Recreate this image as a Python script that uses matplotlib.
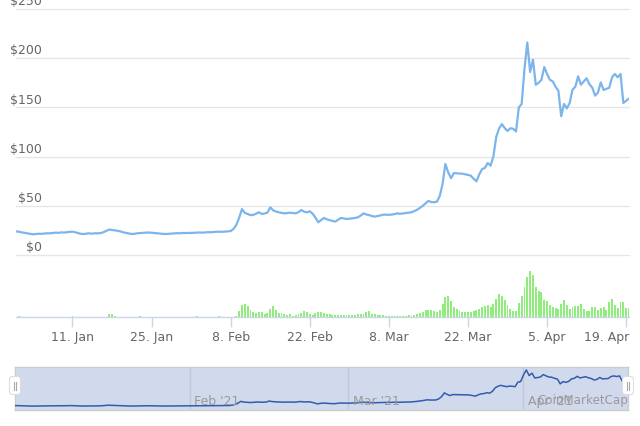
import matplotlib
matplotlib.use('Agg')
import matplotlib.pyplot as plt
import matplotlib.transforms as mtransforms
from matplotlib.patches import FancyBboxPatch
from matplotlib.lines import Line2D
import pandas as pd

plt.rcParams['font.family'] = ['DejaVu Sans']

# 12-hour samples, 2021-01-01 00:00 .. 2021-04-19 12:00
dates = pd.date_range('2021-01-01 00:00', periods=218, freq='12h')

# price in USD
price = [
    24.0, 23.6, 23.0, 22.5, 22.0, 21.4, 21.0, 21.3, 21.6, 21.5, 21.8, 22.1, 22.0, 22.4,
    22.7, 22.5, 23.0, 22.8, 23.2, 23.5, 23.7, 23.1, 22.2, 21.5, 21.3, 21.8, 22.0, 21.7,
    22.1, 22.0, 22.3, 23.2, 24.5, 25.9, 25.4, 25.1, 24.6, 24.0, 23.0, 22.4, 21.8, 21.3,
    21.6, 22.1, 22.3, 22.6, 22.8, 22.9, 22.6, 22.3, 22.0, 21.7, 21.5, 21.3, 21.5, 21.8,
    22.0, 22.2, 22.1, 22.4, 22.3, 22.5, 22.4, 22.6, 22.8, 22.9, 22.7, 23.0, 23.2, 23.1,
    23.4, 23.6, 23.7, 23.5, 23.8, 24.0, 24.3, 26.5, 30.5, 38.0, 46.7, 42.7, 41.7, 40.5,
    40.8, 42.0, 43.4, 41.7, 42.2, 43.0, 48.4, 45.5, 44.2, 43.4, 42.8, 42.3, 42.7, 43.0,
    42.6, 42.3, 43.5, 45.7, 44.0, 43.4, 44.4, 42.0, 38.0, 33.2, 35.5, 37.6, 36.3, 35.4,
    34.6, 33.9, 35.8, 37.6, 37.2, 36.6, 36.9, 37.3, 37.6, 38.3, 40.0, 42.3, 41.2, 40.5,
    39.6, 39.0, 39.6, 40.2, 41.0, 41.0, 40.8, 41.1, 41.6, 42.3, 41.9, 42.3, 42.8, 43.2,
    43.4, 44.6, 46.0, 47.9, 50.0, 52.5, 55.0, 53.8, 53.6, 54.2, 60.0, 72.0, 92.5, 84.0,
    78.0, 83.3, 83.0, 82.8, 82.6, 82.0, 81.4, 80.6, 77.5, 74.9, 82.0, 87.3, 88.5, 93.5,
    90.8, 100.3, 120.0, 128.5, 133.0, 129.0, 126.0, 128.8, 128.3, 125.5, 150.0, 153.5, 189.0, 216.0,
    186.0, 198.5, 173.0, 175.0, 178.0, 191.0, 184.0, 178.0, 176.5, 171.0, 167.0, 141.0, 153.5, 149.0,
    154.5, 168.0, 171.0, 181.6, 173.0, 176.5, 179.6, 173.5, 170.0, 162.0, 165.0, 175.5, 167.7, 168.8,
    170.0, 180.6, 184.0, 180.6, 184.0, 154.5, 156.8, 159.0,
]

# trading volume (relative units)
volume = [
    0.5, 1.5, 0.2, 0.2, 0.2, 0.2, 0.2, 0.2, 0.2, 0.2, 0.2, 0.2, 0.2, 0.2,
    0.2, 0.2, 0.2, 0.2, 0.2, 0.2, 1.0, 0.2, 0.2, 0.2, 0.2, 0.2, 0.2, 0.2,
    0.2, 0.2, 0.2, 0.2, 0.2, 2.7, 2.7, 1.0, 0.2, 0.2, 0.2, 0.2, 0.2, 0.2,
    0.2, 0.2, 1.0, 0.2, 0.2, 0.2, 0.2, 0.2, 0.2, 0.2, 0.2, 0.2, 0.2, 0.2,
    0.2, 0.2, 0.2, 0.2, 0.2, 0.2, 0.2, 0.2, 1.3, 0.2, 0.2, 0.2, 0.2, 0.2,
    0.2, 0.2, 1.0, 0.3, 0.3, 0.3, 0.3, 0.5, 1.0, 5.7, 12.3, 13.3, 10.7, 6.7,
    4.7, 4.0, 4.7, 4.7, 3.3, 3.7, 7.7, 10.7, 7.3, 3.7, 3.7, 3.3, 2.3, 2.7,
    1.5, 2.3, 2.7, 4.0, 5.7, 4.7, 3.0, 2.0, 4.0, 5.3, 5.3, 4.0, 3.3, 3.0,
    2.3, 2.5, 2.3, 2.2, 2.4, 2.2, 2.3, 2.5, 2.3, 2.6, 2.7, 3.5, 5.0, 5.7,
    3.5, 2.7, 2.3, 2.0, 1.6, 1.3, 1.0, 1.0, 0.8, 1.0, 1.0, 1.2, 1.5, 2.0,
    1.5, 2.2, 3.0, 4.0, 5.0, 6.7, 7.3, 7.0, 6.0, 5.3, 7.0, 13.3, 20.0, 20.7,
    16.0, 10.0, 7.7, 6.0, 5.0, 4.7, 5.0, 4.7, 5.7, 6.7, 8.3, 9.8, 11.0, 12.0,
    10.5, 13.0, 18.0, 22.7, 21.0, 17.0, 12.0, 8.3, 6.0, 5.7, 14.3, 20.7, 30.0, 40.0,
    45.7, 41.7, 30.0, 26.0, 25.0, 17.3, 16.0, 12.0, 10.0, 9.3, 8.3, 13.3, 17.3, 11.7,
    7.7, 10.0, 11.0, 11.0, 12.7, 8.3, 5.7, 5.7, 10.0, 10.0, 7.5, 9.0, 10.0, 7.5,
    15.0, 18.3, 12.3, 9.0, 15.0, 15.0, 9.0, 9.0,
]

y_ticks = [0, 50, 100, 150, 200, 250]
y_labels = ['$0', '$50', '$100', '$150', '$200', '$250']
x_tick_dates = pd.to_datetime(['2021-01-11', '2021-01-25', '2021-02-08', '2021-02-22',
                               '2021-03-08', '2021-03-22', '2021-04-05', '2021-04-19'])
x_tick_labels = ['11. Jan', '25. Jan', '8. Feb', '22. Feb', '8. Mar', '22. Mar', '5. Apr', '19. Apr']
nav_months = pd.to_datetime(['2021-02-01', '2021-03-01', '2021-04-01'])
nav_labels = ["Feb '21", "Mar '21", "Apr '21"]

W, H = 640, 427
fig = plt.figure(figsize=(W / 100, H / 100), dpi=100)


def box(x0, y0, x1, y1):
    # pixel box (top-left origin) -> figure fraction rect
    return [x0 / W, 1 - y1 / H, (x1 - x0) / W, (y1 - y0) / H]


# price panel
ax = fig.add_axes(box(16, 10, 629, 256))
ax.plot(dates, price, color='#7cb5ec', lw=1.6, zorder=3)
ax.set_ylim(0, 250)
ax.set_xlim(dates[0], dates[-1])
for v, lab in zip(y_ticks, y_labels):
    ax.axhline(v, color='#e6e6e6', lw=0.9, zorder=0, clip_on=False)
    ax.annotate(lab, xy=(26 / 613, v), xycoords=('axes fraction', 'data'),
                xytext=(0, 6), textcoords='offset points', ha='right', va='center',
                color='#666666', fontsize=9, annotation_clip=False)
ax.set_yticks([])
ax.set_xticks([])
for s in ax.spines.values():
    s.set_visible(False)
ax.patch.set_alpha(0)

# volume panel
axv = fig.add_axes(box(16, 262, 629, 318))
axv.bar(dates, volume, width=0.34, color='#90ed7d', linewidth=0)
axv.set_ylim(0, 56)
axv.set_xlim(dates[0], dates[-1])
axv.set_yticks([])
axv.set_xticks(x_tick_dates)
axv.set_xticklabels(x_tick_labels)
axv.tick_params(axis='x', colors='#ccd6eb', labelcolor='#666666', length=7.5,
                width=1, pad=2, labelsize=9)
# last label is pushed inside the plot like the original
last = axv.get_xticklabels()[-1]
last.set_horizontalalignment('right')
last.set_transform(last.get_transform() + mtransforms.ScaledTranslation(3 / 100, 0, fig.dpi_scale_trans))
for k, s in axv.spines.items():
    s.set_visible(k == 'bottom')
axv.spines['bottom'].set_color('#ccd6eb')
axv.spines['bottom'].set_linewidth(1)
axv.patch.set_alpha(0)

# navigator
axn = fig.add_axes(box(15, 368, 628, 411))
axn.set_facecolor('#d1daed')
axn.plot(dates, price, color='#335cad', lw=1.1, zorder=3)
axn.set_xlim(dates[0], dates[-1])
axn.set_ylim(0, 232)
axn.set_xticks([])
axn.set_yticks([])
for s in axn.spines.values():
    s.set_color('#cccccc')
    s.set_linewidth(1)
for d, lab in zip(nav_months, nav_labels):
    axn.axvline(d, color='#c0c9db', lw=1, zorder=1)
    axn.annotate(lab, xy=(d, 0.23), xycoords=('data', 'axes fraction'),
                 xytext=(3, 0), textcoords='offset points', ha='left', va='center',
                 color='#999999', fontsize=9, zorder=4)

fig.text(628 / W, 1 - 401 / H, 'CoinMarketCap', ha='right', va='center',
         color='#999999', fontsize=8.6)

# navigator handles (drawn in pixel space)
ident = mtransforms.IdentityTransform()
for cx in (15, 628):
    hb = FancyBboxPatch((cx - 5, H - 395), 10, 17, boxstyle='round,pad=0.5,rounding_size=3',
                        facecolor='white', edgecolor='#dddddd', lw=0.8,
                        transform=ident, figure=fig)
    fig.patches.append(hb)
    for dx in (-1.3, 1.3):
        fig.lines.append(Line2D([cx + dx, cx + dx], [H - 391, H - 383], color='#aaaaaa',
                                lw=0.8, transform=ident, figure=fig))

fig.savefig('out.png', dpi=100)
